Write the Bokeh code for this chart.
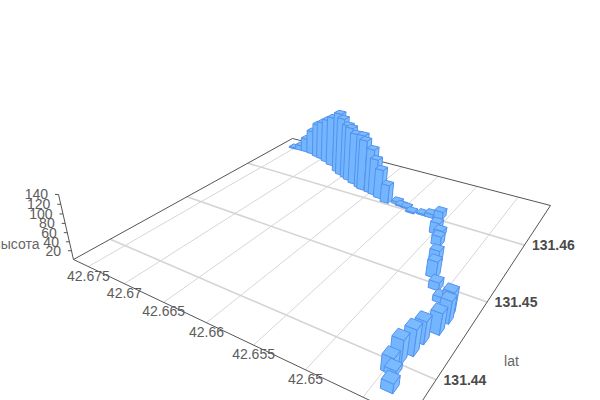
from bokeh.plotting import figure
from bokeh.embed import file_html
from bokeh.resources import INLINE
from bokeh.models import Range1d, ColumnDataSource
from bokeh.core.properties import value

lon = [42.67522,42.67418,42.67326,42.67225,42.67108,42.67026,42.66922,42.66811,42.66642,42.66563,42.66469,
       42.66400,42.66303,42.66188,42.66135,42.66024,42.65960,42.65866,42.65749,42.65625,42.65561,
       42.65489,42.65398,42.65276,42.65179,42.65085,42.64994,42.64944,42.64888,42.64769,42.64701,
       42.64603,42.64366,42.64495,42.64348,42.64357,42.64417,42.64427,42.64468,42.64475,42.64444,42.64387]
lat = [131.46690,131.46696,131.46696,131.46683,131.46646,131.46625,131.46583,131.46533,131.46424,131.46377,131.46342,
       131.46307,131.46262,131.46216,131.46191,131.46174,131.46157,131.46119,131.46071,131.46105,131.46080,
       131.46072,131.46016,131.46039,131.46037,131.46070,131.45780,131.45772,131.45603,131.45302,131.45116,
       131.44969,131.44703,131.44830,131.44625,131.44471,131.44315,131.44164,131.44045,131.43926,131.43922,131.43776]
height = [3,13,36,62,88,98,112,126,150,144,134,133,126,131,123,108,88,71,44,6,3,
          3,3,3,9,17,26,12,21,32,36,17,52,12,47,44,46,53,48,32,11,19]

lon_ticks = [42.675,42.67,42.665,42.66,42.655,42.65,42.645]
lon_labels = ["42.675","42.67","42.665","42.66","42.655","42.65"]
lat_ticks = [131.44,131.45,131.46]
lat_labels = ["131.44","131.45","131.46"]
z_ticks = [20,40,60,80,100,120,140]
z_labels = ["20","40","60","80","100","120","140"]

LON0,LON1 = 42.6413,42.6772
LAT0,LAT1 = 131.436,131.469
G,H = 0.40824,0.65079
A11,A12,A13 = -306.7,498.4,409.5
A21,A22,A23 = -54.26,-80.6,419.0
K,VX,VY = -0.000642,293.0,1213.0
BAR = 0.014

def proj(lo,la,z=0.0):
    a=(lo-LON0)/(LON1-LON0); b=(la-LAT0)/(LAT1-LAT0)
    w=G*a+H*b+1+K*z
    return ((A11*a+A12*b+A13+K*z*VX)/w, (A21*a+A22*b+A23+K*z*VY)/w)

p = figure(width=600,height=400,x_range=Range1d(0,600),y_range=Range1d(400,0),
           x_axis_location=None,y_axis_location=None,min_border=0,outline_line_color=None,
           output_backend="svg",toolbar_location=None)
p.grid.visible=False

def seg(pairs,color,width):
    p.multi_line([[a[0],b[0]] for a,b in pairs],[[a[1],b[1]] for a,b in pairs],line_color=color,line_width=width)

seg([(proj(t,LAT0),proj(t,LAT1)) for t in lon_ticks],"#d6d6d6",1)
seg([(proj(LON0,t),proj(LON1,t)) for t in lat_ticks],"#d4d4d4",1.6)
corners=[(LON0,LAT0),(LON1,LAT0),(LON1,LAT1),(LON0,LAT1)]
seg([(proj(*corners[i]),proj(*corners[(i+1)%4])) for i in range(4)],"#555555",1)
seg([(proj(LON1,LAT0,0),proj(LON1,LAT0,140))],"#555555",1)
seg([(proj(LON1,LAT0,t),(proj(LON1,LAT0,t)[0]-3.5,proj(LON1,LAT0,t)[1])) for t in z_ticks],"#555555",1)

dlo=BAR*(LON1-LON0); dla=BAR*(LAT1-LAT0)
order=sorted(range(len(lon)),key=lambda i:proj(lon[i],lat[i])[1])
xs,ys,cols=[],[],[]
for i in order:
    lo,la,z=lon[i],lat[i],height[i]
    lo0,lo1,la0,la1=lo-dlo,lo+dlo,la-dla,la+dla
    faces=[([(lo0,la0,0),(lo1,la0,0),(lo1,la0,z),(lo0,la0,z)],"#74b5ff"),
           ([(lo0,la0,0),(lo0,la1,0),(lo0,la1,z),(lo0,la0,z)],"#80bdff"),
           ([(lo0,la0,z),(lo1,la0,z),(lo1,la1,z),(lo0,la1,z)],"#7cbaff")]
    for f,c in faces:
        pts=[proj(*q) for q in f]
        xs.append([q[0] for q in pts]); ys.append([q[1] for q in pts]); cols.append(c)
p.patches(xs,ys,fill_color=cols,line_color="#5293ee",line_width=1)

def texts(x,y,t,align,color="#5c5c5c",size="14px",style="normal"):
    src=ColumnDataSource(dict(x=x,y=y,t=t))
    p.text("x","y",text="t",source=src,text_font=value("Liberation Sans"),text_font_size=value(size),
           text_color=color,text_align=align,text_baseline="middle",text_font_style=style)

pts=[proj(t,LAT0) for t in lon_ticks[:len(lon_labels)]]
texts([q[0] for q in pts],[q[1]+9 for q in pts],lon_labels,"center")
pts=[proj(LON0,t) for t in lat_ticks]
texts([q[0]+7.5 for q in pts],[q[1] for q in pts],lat_labels,"left","#4a4a4a",style="bold")
pts=[proj(LON1,LAT0,t) for t in z_ticks]
texts([q[0]-10.5 for q in pts],[q[1] for q in pts],z_labels,"right")
texts([511],[360],["lat"],"center","#666666")
texts([39],[243],["высота"],"right","#666666")

open("out.html","w").write(file_html(p,INLINE))
